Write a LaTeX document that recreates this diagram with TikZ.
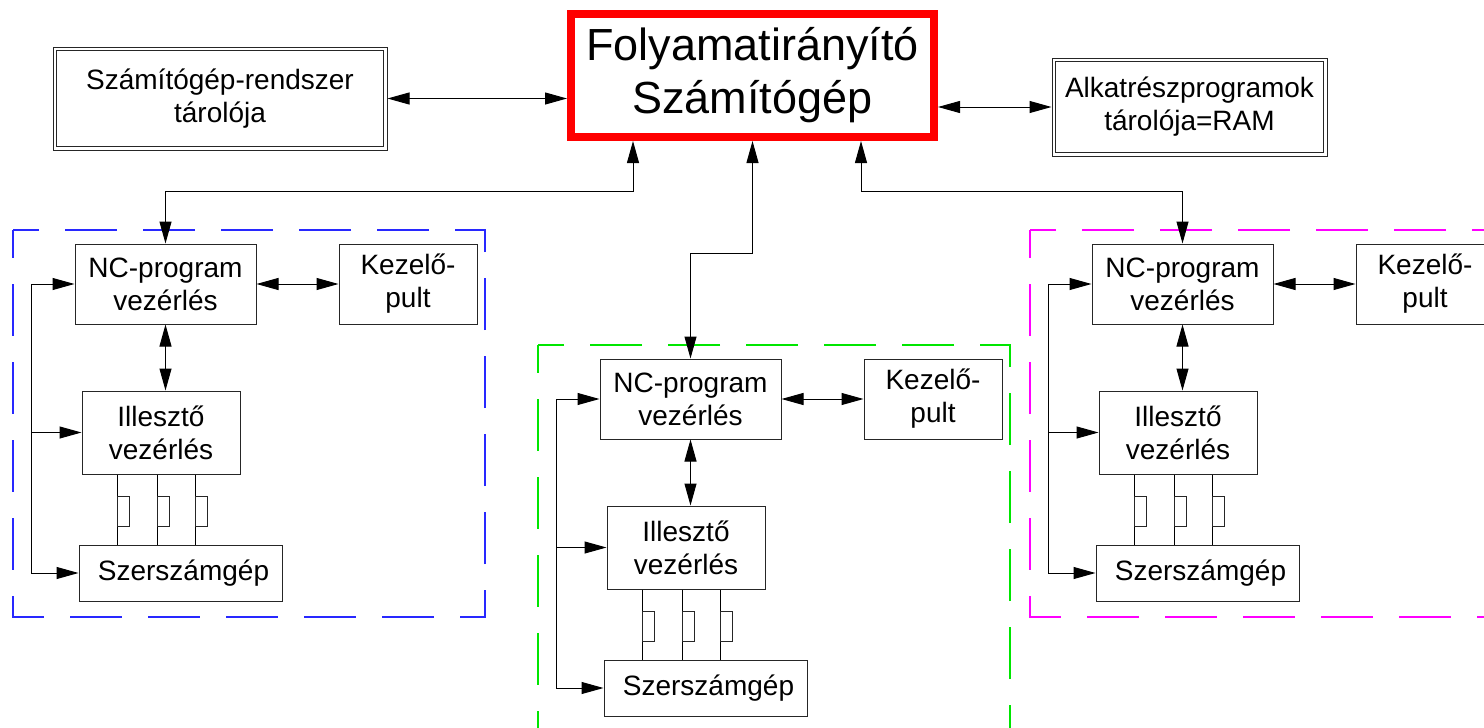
\documentclass[tikz,border=0pt]{standalone}
\usepackage{fontspec}
\setmainfont{Liberation Sans}
\usetikzlibrary{arrows.meta}
\definecolor{gblue}{RGB}{40,40,255}
\definecolor{ggreen}{RGB}{0,230,0}
\definecolor{gmag}{RGB}{255,0,255}
\tikzset{
  box/.style={draw=black!85, line width=1pt, inner sep=0pt, align=center,
    font=\fontsize{28}{33}\selectfont},
  dbox/.style={box},
  innerline/.style={draw=black!85, line width=1pt},
  mainbox/.style={draw=red, line width=8pt, inner sep=0pt, align=center,
    font=\fontsize{45}{53}\selectfont},
  conn/.style={line width=1pt, draw=black},
  grp/.style={line width=1.25pt, dash pattern=on 52pt off 26pt, dash phase=24pt},
  >={Triangle[length=22pt,width=12pt]}
}
\newcommand{\ncgroup}[4]{%
  \begin{scope}[shift={(#2,#3)}]
    \draw[grp, draw=#4] (-62,-14) rectangle (410,373);
    \node[box, minimum width=181pt, minimum height=80pt] (#1nc) at (90.5,40) {NC-program\\vezérlés};
    \node[box, minimum width=138pt, minimum height=80pt] (#1kz) at (333,40) {Kezelő-\\pult};
    \node[box, minimum width=158pt, minimum height=83pt] (#1il) at (86,188.5) {Illesztő\\vezérlés};
    \node[box, minimum width=203pt, minimum height=56pt] (#1sz) at (105.5,329) {\raisebox{-3pt}{\hspace*{6pt}Szerszámgép}};
    \draw[conn,<->] (#1nc.east) -- (#1kz.west);
    \draw[conn,<->] (#1nc.south) -- (#1nc.south |- #1il.north);
    \coordinate (#1ft) at (-44,40);
    \coordinate (#1fb) at (-44,329);
    \draw[conn] (#1ft) -- (#1fb);
    \draw[conn,->] (#1ft) -- (#1nc.west);
    \draw[conn,->] (#1ft |- #1il.west) -- (#1il.west);
    \draw[conn,->] (#1fb) -- (#1sz.west);
    \foreach \v in {42,82,120}{
      \coordinate (#1v\v) at (\v,260);
      \draw[conn] (#1il.south -| #1v\v) -- (#1sz.north -| #1v\v);
      \draw[line width=0.9pt, draw=black!85] (\v,252) rectangle (\v+12,282);
    }
  \end{scope}}
\begin{document}
\begin{tikzpicture}[x=1pt,y=-1pt]
  \fill[white] (0,0) rectangle (1484,728);
  \path[use as bounding box] (0,0) rectangle (1484,728);
  \node[mainbox, minimum width=363pt, minimum height=123pt] (main) at (752.5,75.5)
    {Folyamatirányító\\Számítógép};
  \node[dbox, minimum width=334pt, minimum height=103pt] (lst) at (220,98.5)
    {Számítógép-rendszer\\tárolója};
  \draw[innerline] ([shift={(4,4)}]lst.north west) rectangle ([shift={(-4,-4)}]lst.south east);
  \node[dbox, minimum width=275pt, minimum height=98pt] (rst) at (1189.5,107)
    {Alkatrészprogramok\\tárolója=RAM};
  \draw[innerline] ([shift={(4,4)}]rst.north west) rectangle ([shift={(-4,-4)}]rst.south east);
  \draw[conn,<->] (lst.east) -- (lst.east -| main.west);
  \draw[conn,<->] (rst.west -| main.east) -- (rst.west);

  \ncgroup{A}{75}{244}{gblue}
  \ncgroup{B}{600}{359}{ggreen}
  \ncgroup{C}{1092}{244}{gmag}

  \draw[conn,<->] ([xshift=-119.5pt]main.south) -- ++(0,50) -| (Anc.north);
  \draw[conn,<->] (main.south) -- ++(0,112) -| (Bnc.north);
  \draw[conn,<->] ([xshift=108.5pt]main.south) -- ++(0,50) -| (Cnc.north);
\end{tikzpicture}
\end{document}
